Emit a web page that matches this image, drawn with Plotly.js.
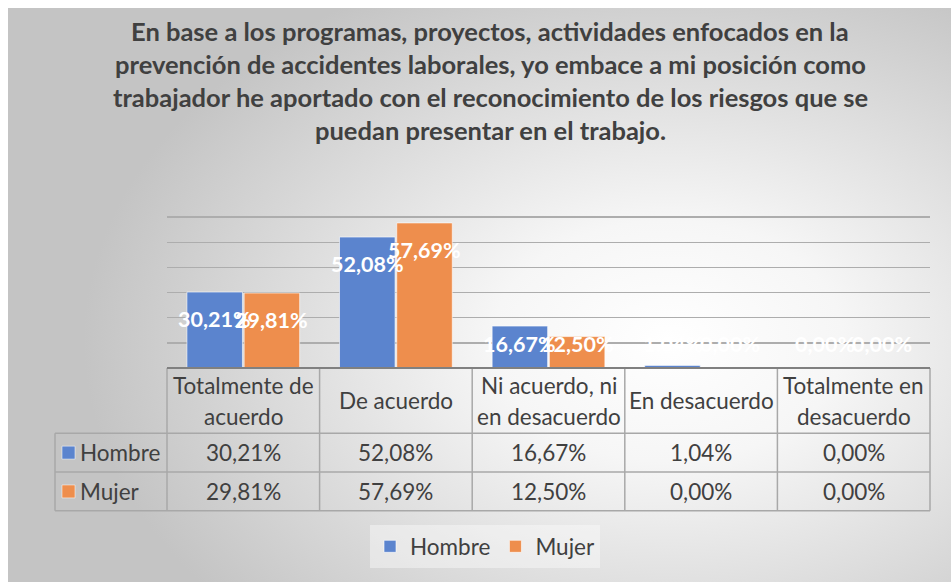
<!DOCTYPE html>
<html><head><meta charset="utf-8">
<script src="https://cdn.plot.ly/plotly-3.0.1.min.js"></script>
<style>
html,body{margin:0;padding:0;background:#fff;}
#bg{position:absolute;left:8px;top:8px;width:943px;height:574px;background:radial-gradient(ellipse 62% 70% at 70% 58%, #ffffff 0%, #f6f6f6 30%, #c4c4c4 100%);}
#chart{position:absolute;left:0;top:0;width:951px;height:582px;}
</style></head><body>
<div id="bg"></div><div id="chart"></div>
<script>
const titleLines = [
  "En base a los programas, proyectos, actividades enfocados en la",
  "prevención de accidentes laborales, yo embace a mi posición como",
  "trabajador he aportado con el reconocimiento de los riesgos que se",
  "puedan presentar en el trabajo."
];
const categories = ["Totalmente de acuerdo","De acuerdo","Ni acuerdo, ni en desacuerdo","En desacuerdo","Totalmente en desacuerdo"];
const categoryLines = [["Totalmente de","acuerdo"],["De acuerdo"],["Ni acuerdo, ni","en desacuerdo"],["En desacuerdo"],["Totalmente en","desacuerdo"]];
const hombre = [30.21, 52.08, 16.67, 1.04, 0.00];
const mujer = [29.81, 57.69, 12.50, 0.00, 0.00];
const seriesNames = ["Hombre","Mujer"];
const seriesColors = ["#5B84CE","#EE8E4D"];
const series = [hombre, mujer];

const FONT = "Lato, 'Open Sans', sans-serif";
const TXT = "#404040";
const W = 951, H = 582, L = 167, R = 930, T = 191.7, B = 368.5;
const px2x = p => (p - L) / (R - L);
const px2y = p => (B - p) / (B - T);
const fmt = v => v.toFixed(2).replace('.', ',') + '%';

const traces = series.map((vals, s) => ({
  type: 'bar', name: seriesNames[s], x: categories, y: vals,
  marker: {color: seriesColors[s], line: {color: 'rgba(255,255,255,0.6)', width: 1}},
  hoverinfo: 'skip'
}));

const annotations = [];
// title
titleLines.forEach((t, k) => annotations.push({
  text: '<b>' + t + '</b>', xref: 'paper', yref: 'paper', x: px2x(490), y: px2y(30 + 33 * k),
  xanchor: 'center', yanchor: 'middle', showarrow: false,
  font: {family: FONT, size: 25.5, color: TXT}
}));
// data labels
series.forEach((vals, s) => vals.forEach((v, i) => annotations.push({
  text: '<b>' + fmt(v) + '</b>', xref: 'x', yref: 'y', x: categories[i], y: Math.max(v, 20.1),
  xshift: (s === 0 ? -1 : 1) * 28.6, yshift: -27, xanchor: 'center', yanchor: 'middle', showarrow: false,
  font: {family: FONT, size: 21.5, color: '#ffffff'}
})));
// table header
const headTop = B, headBot = 434, row1 = 473, row2 = 512;
categoryLines.forEach((lines, i) => {
  const mid = (headTop + headBot) / 2;
  lines.forEach((ln, k) => annotations.push({
    text: ln, xref: 'x', yref: 'paper', x: categories[i],
    y: px2y(mid + (k - (lines.length - 1) / 2) * 31),
    xanchor: 'center', yanchor: 'middle', showarrow: false,
    font: {family: FONT, size: 22.5, color: TXT}
  }));
});
// table rows
const rowMids = [(headBot + row1) / 2, (row1 + row2) / 2];
series.forEach((vals, s) => {
  annotations.push({
    text: seriesNames[s], xref: 'paper', yref: 'paper', x: px2x(78), y: px2y(rowMids[s]),
    xanchor: 'left', yanchor: 'middle', showarrow: false,
    font: {family: FONT, size: 22.5, color: TXT}
  });
  vals.forEach((v, i) => annotations.push({
    text: fmt(v), xref: 'x', yref: 'paper', x: categories[i], y: px2y(rowMids[s]),
    xanchor: 'center', yanchor: 'middle', showarrow: false,
    font: {family: FONT, size: 22.5, color: TXT}
  }));
});

const shapes = [];
const lineC = '#a8a8a8';
const colW = (R - L) / categories.length;
for (let i = 0; i <= categories.length; i++) {
  const xp = px2x(L + i * colW);
  shapes.push({type: 'line', xref: 'paper', yref: 'paper', x0: xp, x1: xp, y0: px2y(headTop), y1: px2y(row2), line: {color: lineC, width: 1.5}});
}
shapes.push({type: 'line', xref: 'paper', yref: 'paper', x0: px2x(55), x1: px2x(55), y0: px2y(headBot), y1: px2y(row2), line: {color: lineC, width: 1.5}});
[headBot, row1, row2].forEach(py => shapes.push({type: 'line', xref: 'paper', yref: 'paper', x0: px2x(55), x1: px2x(R), y0: px2y(py), y1: px2y(py), line: {color: lineC, width: 1.5}}));
shapes.push({type: 'line', xref: 'paper', yref: 'paper', x0: 0, x1: 1, y0: 0, y1: 0, line: {color: '#808080', width: 2}});
seriesColors.forEach((c, s) => shapes.push({type: 'rect', xref: 'paper', yref: 'paper',
  x0: px2x(62), x1: px2x(75), y0: px2y(rowMids[s] - 6.5), y1: px2y(rowMids[s] + 6.5),
  fillcolor: c, line: {color: 'rgba(255,255,255,0.5)', width: 1}}));

const layout = {
  width: W, height: H,
  margin: {l: L, r: W - R, t: T, b: H - B, pad: 0},
  paper_bgcolor: 'rgba(0,0,0,0)', plot_bgcolor: 'rgba(0,0,0,0)',
  barmode: 'group', bargap: 0.25, bargroupgap: 0.03,
  showlegend: true,
  legend: {orientation: 'h', x: px2x(485), xanchor: 'center', y: px2y(548), yanchor: 'middle',
    font: {family: FONT, size: 22.5, color: TXT}, bgcolor: 'rgba(250,250,250,0.45)', itemclick: false,
    itemwidth: 30, tracegroupgap: 0},
  xaxis: {showticklabels: false, showgrid: false, zeroline: false, showline: false, ticks: ''},
  yaxis: {range: [0, 70], dtick: 10, showticklabels: false, showgrid: true, gridcolor: '#adadad', gridwidth: 1.3, zeroline: false, showline: false, ticks: ''},
  annotations: annotations, shapes: shapes,
  font: {family: FONT, color: TXT}
};
Plotly.newPlot('chart', traces, layout, {displayModeBar: false, staticPlot: true});
</script></body></html>
